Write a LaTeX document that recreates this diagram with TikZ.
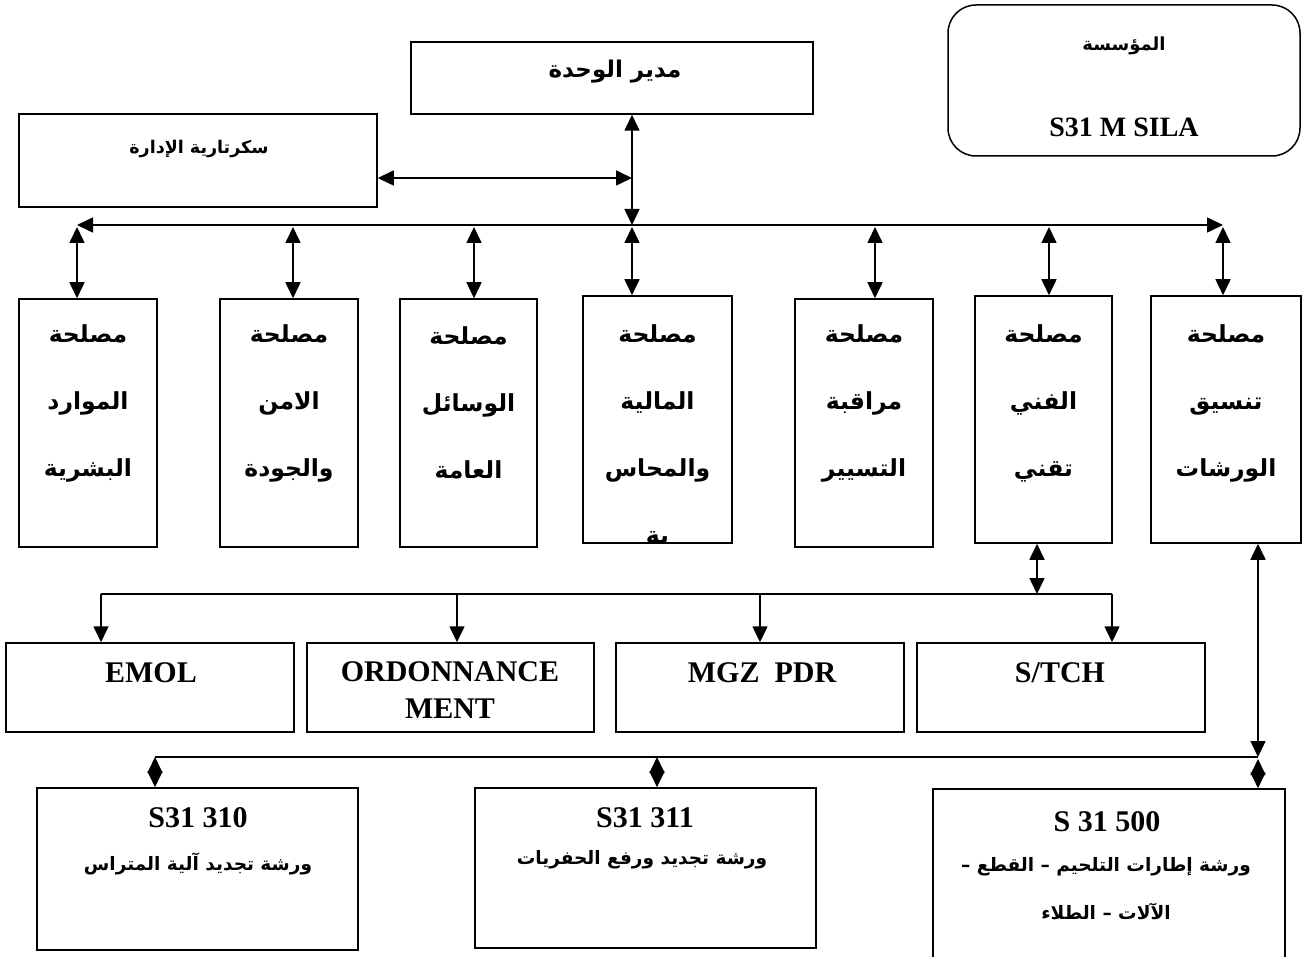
\documentclass[tikz,border=0pt]{standalone}
\usepackage{fontspec}
\setmainfont{Liberation Serif}
\newfontfamily\arabicfont[Script=Arabic]{DejaVu Sans}
\TeXXeTstate=1
\usetikzlibrary{arrows.meta}
\newcommand{\artxt}[1]{\beginR #1\endR}
\begin{document}
\begin{tikzpicture}[x=1pt,y=-1pt,
  box/.style={draw, line width=1.5pt, rectangle, inner sep=0pt},
  vbox/.style={box, minimum width=138pt, minimum height=248pt},
  lbox/.style={box, minimum width=288pt, minimum height=89pt},
  lbl/.style={inner sep=0pt, align=center},
  artext/.style={lbl, font=\arabicfont\bfseries\fontsize{#1}{#1}\selectfont},
  vtext/.style={lbl, font=\arabicfont\bfseries\fontsize{23.5}{67}\selectfont},
  lattext/.style={lbl, font=\bfseries\fontsize{#1}{37}\selectfont},
  tip/.tip={Triangle[length=16pt,width=15pt]},
  conn/.style={line width=1.6pt, tip-tip},
  arr/.style={line width=1.6pt, -tip},
  bus/.style={line width=1.6pt}]
\useasboundingbox (0,0) rectangle (1302,957);

% top boxes
\node[box, minimum width=402pt, minimum height=72pt] (dir) at (612,78) {};
\node[box, rounded corners=28pt, minimum width=352pt, minimum height=151pt] (org) at (1124,80.5) {};
\node[box, minimum width=358pt, minimum height=93pt] (sec) at (198,160.5) {};
\node[artext=23] (tdir) at (615,72) {\artxt{مدير الوحدة}};
\node[artext=18] (torg) at (1124,46) {\artxt{المؤسسة}};
\node[lattext=28] (torg2) at (1124,127) {S31 M SILA};
\node[artext=17.5] (tsec) at (199,149) {\artxt{سكرتارية الإدارة}};

% service boxes
\node[vbox] (b1) at (88,423) {};
\node[vbox] (b2) at (289,423) {};
\node[vbox, minimum width=137pt] (b3) at (468.5,423) {};
\node[vbox, minimum width=149pt, minimum height=247pt] (b4) at (657.5,419.5) {};
\node[vbox] (b5) at (864,423) {};
\node[vbox, minimum width=137pt, minimum height=247pt] (b6) at (1043.5,419.5) {};
\node[vbox, minimum width=150pt, minimum height=247pt] (b7) at (1226,419.5) {};

\node[vtext] (t1) at (b1 |- 0,403) {\artxt{مصلحة}\\\artxt{الموارد}\\\artxt{البشرية}};
\node[vtext] (t2) at (b2 |- 0,403) {\artxt{مصلحة}\\\artxt{الامن}\\\artxt{والجودة}};
\node[vtext] (t3) at (b3 |- 0,403) {\artxt{مصلحة}\\\artxt{الوسائل}\\\artxt{العامة}};
\begin{scope}
\clip (b4.north west) rectangle (b4.south east);
\node[vtext] (t4) at (b4 |- 0,436) {\artxt{مصلحة}\\\artxt{المالية}\\\artxt{والمحاس}\\\artxt{بة}};
\end{scope}
\node[vtext] (t5) at (b5 |- 0,403) {\artxt{مصلحة}\\\artxt{مراقبة}\\\artxt{التسيير}};
\node[vtext] (t6) at (b6 |- 0,403) {\artxt{مصلحة}\\\artxt{الفني}\\\artxt{تقني}};
\node[vtext] (t7) at (b7 |- 0,403) {\artxt{مصلحة}\\\artxt{تنسيق}\\\artxt{الورشات}};

% lower boxes
\node[lbox] (emol) at (150,687.5) {};
\node[lbox, minimum width=287pt] (ord) at (450.5,687.5) {};
\node[lbox] (mgz) at (760,687.5) {};
\node[lbox] (stch) at (1061,687.5) {};
\node[lattext=30] (temol) at (151,673) {EMOL};
\node[lattext=30, anchor=north] (tord) at (450,661) {ORDONNANCE\\MENT};
\node[lattext=30] (tmgz) at (762,673) {MGZ\ \ PDR};
\node[lattext=30] (tstch) at (1060,673) {S/TCH};

% workshop boxes
\node[box, minimum width=321pt, minimum height=162pt] (w310) at (197.5,869) {};
\node[box, minimum width=341pt, minimum height=160pt] (w311) at (645.5,868) {};
\node[box, minimum width=352pt, minimum height=186pt] (w500) at (1109,882) {};
\node[lattext=30] (tw310) at (198,818) {S31 310};
\node[artext=18.5] (aw310) at (198,864) {\artxt{ورشة تجديد آلية المتراس}};
\node[lattext=30] (tw311) at (645,818) {S31 311};
\node[artext=18.5] (aw311) at (642,860) {\artxt{ورشة تجديد ورفع الحفريات}};
\node[lattext=30] (tw500) at (1107,822) {S 31 500};
\node[artext=18.5] (aw500a) at (1106,867) {\artxt{ورشة إطارات التلحيم – القطع –}};
\node[artext=18.5] (aw500b) at (1106,911) {\artxt{الآلات – الطلاء}};

% junction coordinates
\coordinate (jC) at (632,225);
\coordinate (jS) at (632,178);
\coordinate (busL) at (77,225);
\coordinate (busR) at (1223,225);
\coordinate (d1) at (77,227);
\coordinate (d2) at (293,227);
\coordinate (d3) at (474,227);
\coordinate (d4) at (632,227);
\coordinate (d5) at (875,227);
\coordinate (d6) at (1049,227);
\coordinate (d7) at (1223,227);
\coordinate (sbL) at (101,594);
\coordinate (sb2) at (457,594);
\coordinate (sb3) at (760,594);
\coordinate (sbR) at (1112,594);
\coordinate (tF) at (1037,594);
\coordinate (lbL) at (155,757);
\coordinate (lbM) at (657,757);
\coordinate (lbR) at (1258,757);
\coordinate (lbR2) at (1258,759);

% connectors top
\draw[conn] (jC |- dir.south) -- (jC);
\draw[conn] (sec.east |- jS) -- (jS);
\draw[conn] (busL) -- (busR);
\draw[conn] (d1) -- (d1 |- b1.north);
\draw[conn] (d2) -- (d2 |- b2.north);
\draw[conn] (d3) -- (d3 |- b3.north);
\draw[conn] (d4) -- (d4 |- b4.north);
\draw[conn] (d5) -- (d5 |- b5.north);
\draw[conn] (d6) -- (d6 |- b6.north);
\draw[conn] (d7) -- (d7 |- b7.north);

% connectors middle
\draw[conn] (tF |- b6.south) -- (tF);
\draw[bus] (sbL) -- (sbR);
\draw[arr] (sbL) -- (sbL |- emol.north);
\draw[arr] (sb2) -- (sb2 |- ord.north);
\draw[arr] (sb3) -- (sb3 |- mgz.north);
\draw[arr] (sbR) -- (sbR |- stch.north);

% connectors bottom
\draw[conn] (lbR |- b7.south) -- (lbR);
\draw[bus] (lbL) -- (lbR);
\draw[conn] (lbL) -- (lbL |- w310.north);
\draw[conn] (lbM) -- (lbM |- w311.north);
\draw[conn] (lbR2) -- (lbR2 |- w500.north);
\end{tikzpicture}
\end{document}
